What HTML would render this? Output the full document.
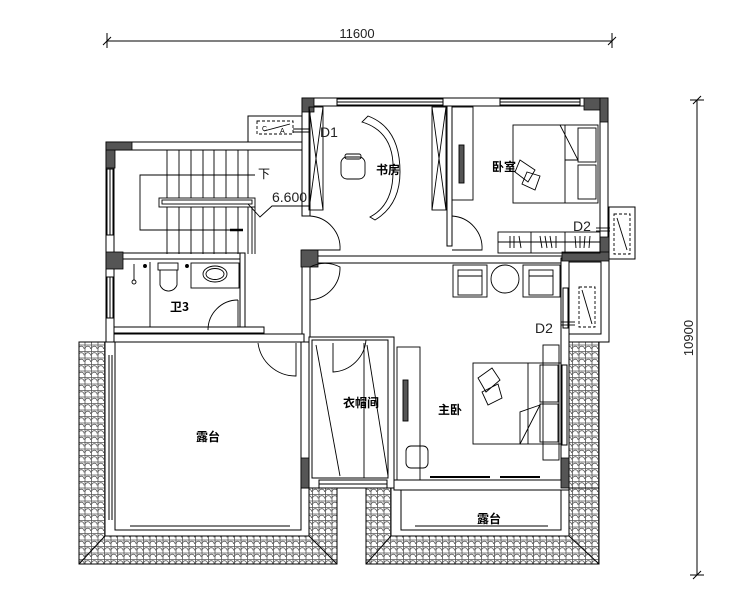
<!DOCTYPE html>
<html><head><meta charset="utf-8"><style>
html,body{margin:0;padding:0;background:#fff;width:750px;height:602px;overflow:hidden}
svg{display:block}
text{font-family:"Liberation Sans","Noto Sans CJK SC",sans-serif}
.cn{font-family:"Noto Sans CJK SC",sans-serif;font-weight:bold;font-size:12px}
</style></head><body>
<svg width="750" height="602" viewBox="0 0 750 602" xmlns="http://www.w3.org/2000/svg">
<defs>
<pattern id="tile" width="6.5" height="6.5" patternUnits="userSpaceOnUse">
<rect width="6.5" height="6.5" fill="#fff"/>
<path d="M0 0.5H6.5M0.5 0V6.5M0.5 4.5A2.8 2.8 0 0 1 6.1 4.5" fill="none" stroke="#555" stroke-width="0.8"/>
</pattern>
</defs>
<g stroke="#000" stroke-width="1" fill="none">
<line x1="107" y1="41" x2="612" y2="41"/>
<line x1="107" y1="33" x2="107" y2="48"/><line x1="612" y1="33" x2="612" y2="48"/>
<line x1="103" y1="45" x2="111" y2="37"/><line x1="608" y1="45" x2="616" y2="37"/>
<line x1="697" y1="100" x2="697" y2="575"/>
<line x1="690" y1="100" x2="704" y2="100"/><line x1="690" y1="575" x2="704" y2="575"/>
<line x1="693" y1="104" x2="701" y2="96"/><line x1="693" y1="579" x2="701" y2="571"/>
</g>
<text x="357" y="38" font-size="13" text-anchor="middle" fill="#222">11600</text>
<text transform="translate(693,338) rotate(-90)" font-size="13" text-anchor="middle" fill="#222">10900</text>

<g stroke="#000" stroke-width="1">
<rect x="79" y="342" width="258" height="222" fill="url(#tile)"/>
<rect x="569" y="342" width="30" height="222" fill="url(#tile)"/>
<rect x="366" y="488" width="233" height="76" fill="url(#tile)"/>
</g>
<g stroke="#000" stroke-width="1" fill="#fff">
<rect x="105" y="342" width="204" height="194"/>
<rect x="115" y="342" width="186" height="188"/>
<rect x="301" y="342" width="8" height="146"/>
<rect x="391" y="484" width="178" height="52"/>
<rect x="401" y="490" width="160" height="40"/>
</g>
<g stroke="#000" stroke-width="1" fill="none">
<line x1="79" y1="564" x2="105" y2="536"/><line x1="337" y1="564" x2="309" y2="536"/>
<line x1="366" y1="564" x2="391" y2="536"/><line x1="599" y1="564" x2="569" y2="536"/>
<line x1="130" y1="530" x2="290" y2="530"/><line x1="130" y1="526" x2="290" y2="526"/>
<line x1="415" y1="530" x2="548" y2="530"/><line x1="415" y1="526" x2="548" y2="526"/>
<line x1="109" y1="355" x2="109" y2="520"/><line x1="112" y1="355" x2="112" y2="520"/>
</g>

<g stroke="#000" stroke-width="1" fill="#fff">
<rect x="106" y="142" width="196" height="8"/>
<rect x="106" y="142" width="8" height="200"/>
<rect x="302" y="98" width="306" height="8"/>
<rect x="302" y="98" width="8" height="118"/>
<rect x="600" y="98" width="8" height="160"/>
<rect x="302" y="250" width="8" height="92"/>
<rect x="310" y="256" width="252" height="7"/>
<rect x="447" y="106" width="5" height="140"/>
<rect x="561" y="258" width="8" height="222"/>
<rect x="569" y="258" width="40" height="84"/>
<rect x="569" y="262" width="32" height="72"/>
<rect x="609" y="207" width="26" height="52"/>
<rect x="248" y="116" width="54" height="26"/>
<rect x="309" y="337" width="85" height="151"/>
<rect x="312" y="340" width="76" height="138"/>
<rect x="394" y="480" width="175" height="10"/>
<rect x="114" y="253" width="128" height="6"/>
<rect x="240" y="253" width="5" height="74"/>
<rect x="114" y="327" width="150" height="6"/>
<rect x="114" y="334" width="190" height="8"/>
</g>
<g stroke="#000" stroke-width="1" fill="none">
<rect x="337" y="99" width="106" height="6"/><line x1="337" y1="102" x2="443" y2="102"/>
<rect x="500" y="99" width="80" height="6"/><line x1="500" y1="102" x2="580" y2="102"/>
<rect x="107" y="169" width="6" height="66"/><line x1="110" y1="169" x2="110" y2="235"/>
<rect x="107" y="277" width="6" height="41"/><line x1="110" y1="277" x2="110" y2="318"/>
<rect x="319" y="480" width="68" height="8"/><line x1="319" y1="484" x2="387" y2="484"/>
<rect x="563" y="288" width="5" height="40"/>
<rect x="562" y="365" width="5" height="80"/>
</g>
<g fill="#555" stroke="#000" stroke-width="0.8">
<rect x="106" y="142" width="9" height="26"/>
<rect x="106" y="142" width="26" height="8"/>
<rect x="302" y="98" width="12" height="14"/>
<rect x="584" y="98" width="24" height="12"/>
<rect x="600" y="98" width="8" height="24"/>
<rect x="106" y="252" width="17" height="17"/>
<rect x="301" y="250" width="17" height="17"/>
<rect x="600" y="237" width="9" height="22"/>
<rect x="562" y="252" width="47" height="9"/>
<rect x="301" y="458" width="8" height="30"/>
<rect x="561" y="458" width="8" height="30"/>
</g>

<g stroke="#000" stroke-width="0.9" fill="none">
<line x1="167" y1="150" x2="167" y2="254"/><line x1="179" y1="150" x2="179" y2="254"/>
<line x1="191" y1="150" x2="191" y2="254"/><line x1="203" y1="150" x2="203" y2="254"/>
<line x1="214" y1="150" x2="214" y2="254"/><line x1="226" y1="150" x2="226" y2="254"/>
<line x1="238" y1="150" x2="238" y2="254"/><line x1="248" y1="150" x2="248" y2="254"/>
<rect x="159" y="198" width="96" height="9" fill="#fff"/>
<rect x="162" y="200" width="90" height="4"/>
<polyline points="255,175 140,175 140,230 243,230"/>
<path d="M230 230 L243 230" stroke-width="2.5"/>
<line x1="252" y1="207" x2="252" y2="254"/><line x1="255" y1="207" x2="255" y2="254"/>
<polyline points="248,204 260,217 272,206 310,206"/>
<path d="M310 216 A32 32 0 0 1 340 250 L310 250"/>
<path d="M310 267 A32 32 0 0 1 340 267 A32 32 0 0 1 310 300"/>
<path d="M238 300 A30 30 0 0 0 208 330"/>
<line x1="238" y1="300" x2="238" y2="327"/>
<path d="M452 216 A32 32 0 0 1 482 250 L452 250"/>
<path d="M296 343 L296 376 A38 38 0 0 1 258 343"/>
<path d="M333 343 L333 372 A35 35 0 0 0 366 340"/>
<line x1="316" y1="345" x2="340" y2="476"/>
<line x1="367" y1="345" x2="388" y2="476"/>
<line x1="364" y1="343" x2="364" y2="478"/>
<rect x="309" y="107" width="14" height="103"/>
<line x1="309" y1="107" x2="323" y2="210"/><line x1="323" y1="107" x2="309" y2="210"/>
<rect x="432" y="107" width="14" height="103"/>
<line x1="432" y1="107" x2="446" y2="210"/><line x1="446" y1="107" x2="432" y2="210"/>
<path d="M362 122 Q395 132 393 172 Q393 205 370 217 L375 220 Q400 205 400 172 Q400 128 368 116 Z"/>
<rect x="341" y="157" width="24" height="22" rx="6"/>
<rect x="345" y="154" width="16" height="5" rx="2"/>
<rect x="452" y="107" width="21" height="93"/>
<rect x="459" y="145" width="5" height="38" fill="#555"/>
<rect x="513" y="125" width="85" height="78"/>
<line x1="565" y1="125" x2="565" y2="203"/>
<rect x="578" y="128" width="18" height="34"/><rect x="578" y="165" width="18" height="34"/>
<polyline points="560,125 578,160 565,160"/>
<path d="M520 160 L535 170 L528 182 L515 172 Z M527 172 L540 176 L535 190 L522 184 Z"/>
<rect x="498" y="232" width="102" height="21"/>
<line x1="531" y1="232" x2="531" y2="253"/><line x1="565" y1="232" x2="565" y2="253"/>
<line x1="498" y1="242" x2="600" y2="242"/>
<path d="M510 236 v12 M514 236 v12 M519 236 l2 12 M540 236 l2 12 M545 236 l2 12 M550 236 l2 12 M556 236 v12 M575 236 l1 12 M580 236 v12 M585 236 l-1 12 M590 236 l-1 12"/>
<rect x="453" y="265" width="34" height="32"/><rect x="458" y="270" width="24" height="25"/><line x1="458" y1="276" x2="482" y2="276"/>
<circle cx="505" cy="279" r="14"/>
<rect x="523" y="265" width="37" height="32"/><rect x="529" y="270" width="24" height="25"/><line x1="529" y1="276" x2="553" y2="276"/>
<rect x="397" y="347" width="23" height="133"/>
<rect x="403" y="380" width="5" height="41" fill="#555"/>
<rect x="406" y="446" width="22" height="22" rx="5"/>
<rect x="473" y="363" width="88" height="81"/>
<line x1="528" y1="363" x2="528" y2="444"/>
<rect x="540" y="365" width="18" height="37"/><rect x="540" y="404" width="18" height="38"/>
<polyline points="520,444 540,405 520,412 520,444"/>
<path d="M478 378 L492 368 L500 380 L486 392 Z M482 392 L498 384 L502 398 L488 405 Z"/>
<rect x="543" y="345" width="16" height="115"/>
<line x1="430" y1="477" x2="490" y2="477" stroke-width="2"/>
<line x1="500" y1="477" x2="540" y2="477" stroke-width="2"/>
<rect x="158" y="263" width="20" height="7"/>
<path d="M160 270 L160 285 A9 9 0 0 0 177 285 L177 270"/>
<rect x="191" y="263" width="48" height="25"/>
<ellipse cx="215" cy="274" rx="12" ry="8"/><ellipse cx="215" cy="274" rx="9" ry="5.5"/>
<line x1="134" y1="264" x2="134" y2="280"/><circle cx="134" cy="282" r="2"/>
<circle cx="145" cy="266" r="1.5" fill="#000"/><circle cx="187" cy="266" r="1.5" fill="#000"/>
<line x1="150" y1="262" x2="150" y2="327"/>
<rect x="257" y="121" width="36" height="13" stroke-dasharray="3,2"/>
<line x1="264" y1="131" x2="290" y2="124"/>
<rect x="614" y="214" width="16" height="40" stroke-dasharray="3,2"/>
<line x1="617" y1="218" x2="627" y2="250"/>
<rect x="579" y="287" width="16" height="40" stroke-dasharray="3,2"/>
<line x1="582" y1="290" x2="592" y2="324"/>
<line x1="293" y1="129" x2="310" y2="129"/><line x1="293" y1="132" x2="310" y2="132"/>
<line x1="596" y1="228" x2="610" y2="228"/><line x1="596" y1="231" x2="610" y2="231"/>
<line x1="561" y1="322" x2="575" y2="322"/><line x1="561" y1="325" x2="575" y2="325"/>
</g>
<g font-size="7" fill="#000">
<text x="262" y="131">C</text><text x="280" y="133">A</text>
</g>

<g fill="#222" font-size="14">
<text x="320" y="137">D1</text>
<text x="573" y="231">D2</text>
<text x="535" y="333">D2</text>
<text x="272" y="202">6.600</text>
</g>
<text x="258" y="178" class="cn" style="font-weight:normal">下</text>
<text x="376" y="174" class="cn">书房</text>
<text x="492" y="171" class="cn">卧室</text>
<text x="170" y="311" class="cn">卫3</text>
<text x="343" y="407" class="cn">衣帽间</text>
<text x="438" y="414" class="cn">主卧</text>
<text x="196" y="441" class="cn">露台</text>
<text x="477" y="523" class="cn">露台</text>
</svg>
</body></html>
